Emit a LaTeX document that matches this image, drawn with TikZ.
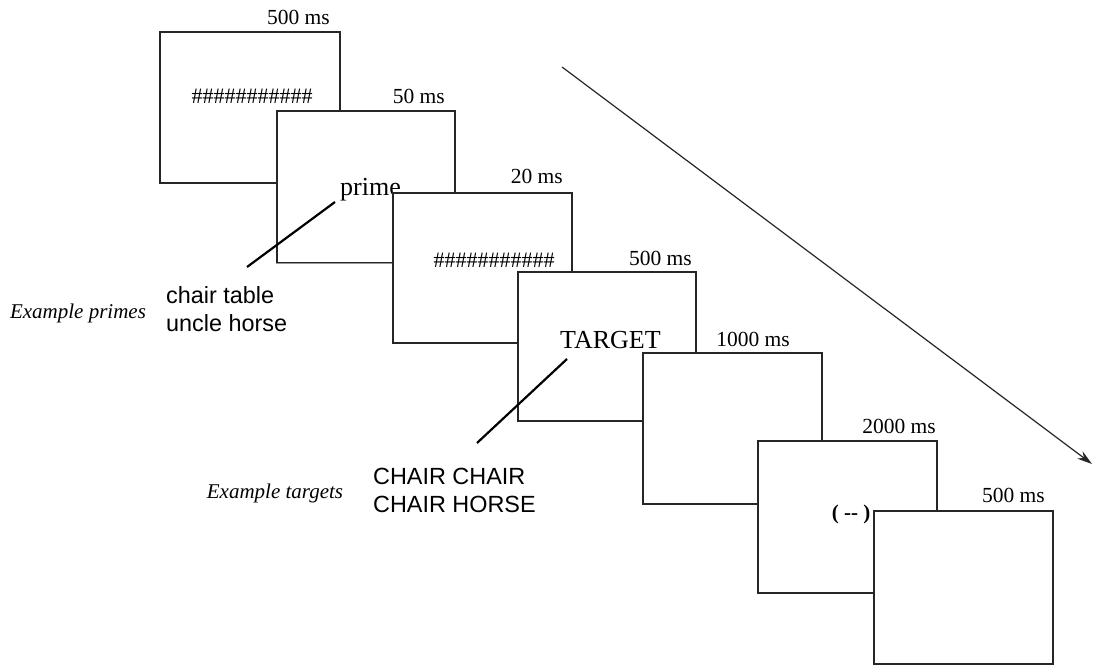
\documentclass[tikz,border=0pt]{standalone}
\usepackage{fontspec}
\setmainfont{Liberation Serif}
\newfontfamily\tnr{Liberation Serif}
\newfontfamily\arl{Liberation Sans}
\usetikzlibrary{arrows.meta}
\begin{document}
\begin{tikzpicture}[x=1pt,y=-1pt,
  screen/.style={draw=black!85, line width=1.7pt, fill=white, anchor=north west, inner sep=0pt},
  timelbl/.style={anchor=base east, inner sep=0pt, font=\tnr\fontsize{21.5}{24}\selectfont},
  stim/.style={inner sep=0pt, font=\tnr\fontsize{26}{30}\selectfont},
  hashes/.style={inner sep=0pt, anchor=base, font=\tnr\fontsize{22}{24}\selectfont},
  exlbl/.style={inner sep=0pt, font=\tnr\itshape\fontsize{21}{24}\selectfont},
  words/.style={inner sep=0pt, anchor=west, align=left, font=\arl\fontsize{23.4}{28}\selectfont},
  pointer/.style={line width=2.2pt, black},
  timeline/.style={line width=1.2pt, black!85, -{Stealth[length=15pt,width=9pt]}}
]
\useasboundingbox (0,0) rectangle (1102,666);

% screen 1
\node[screen, minimum width=180pt, minimum height=151pt] (s1) at (159,31) {};
\node[timelbl] (t1) at (330,25) {500 ms};
\node[hashes] (h1) at (252,103) {\#\#\#\#\#\#\#\#\#\#\#};

% screen 2
\node[screen, minimum width=178pt, minimum height=152pt] (s2) at (276,110) {};
\draw[black!40, line width=1.5pt] (s2.south west) -- (s2.south east);
\node[timelbl] (t2) at (445,104) {50 ms};
\node[stim, anchor=base west] (prime) at (340,195) {prime};
\coordinate (p1) at (335,202);
\coordinate (p2) at (247,267);
\draw[pointer] (p1) -- (p2);

% screen 3
\node[screen, minimum width=179pt, minimum height=150pt] (s3) at (392,192) {};
\node[timelbl] (t3) at (563,183) {20 ms};
\node[hashes] (h3) at (494,267) {\#\#\#\#\#\#\#\#\#\#\#};

% screen 4
\node[screen, minimum width=178pt, minimum height=149pt] (s4) at (517,271) {};
\node[timelbl] (t4) at (692,265) {500 ms};
\node[stim, anchor=base west] (target) at (560,348) {TARGET};
\coordinate (q1) at (567,359);
\coordinate (q2) at (477,443);
\draw[pointer] (q1) -- (q2);

% screen 5
\node[screen, minimum width=179pt, minimum height=151pt] (s5) at (642,352) {};
\node[timelbl] (t5) at (790,346) {1000 ms};

% screen 6
\node[screen, minimum width=179pt, minimum height=152pt] (s6) at (757,440) {};
\node[timelbl] (t6) at (936,433) {2000 ms};
\node[inner sep=0pt, font=\tnr\bfseries\fontsize{21}{24}\selectfont] (fix) at (851,514) {( -- )};

% screen 7
\node[screen, minimum width=179pt, minimum height=153pt] (s7) at (873,510) {};
\node[timelbl] (t7) at (1045,502) {500 ms};

% labels
\node[exlbl] (ep) at (78,313) {Example primes};
\node[words] (pw) at (166,309) {chair table\\uncle horse};
\node[exlbl] (et) at (275,493) {Example targets};
\node[words] (tw) at (373,490) {CHAIR CHAIR\\CHAIR HORSE};

% time arrow
\coordinate (a1) at (562,67);
\coordinate (a2) at (1092,464);
\draw[timeline] (a1) -- (a2);
\end{tikzpicture}
\end{document}
